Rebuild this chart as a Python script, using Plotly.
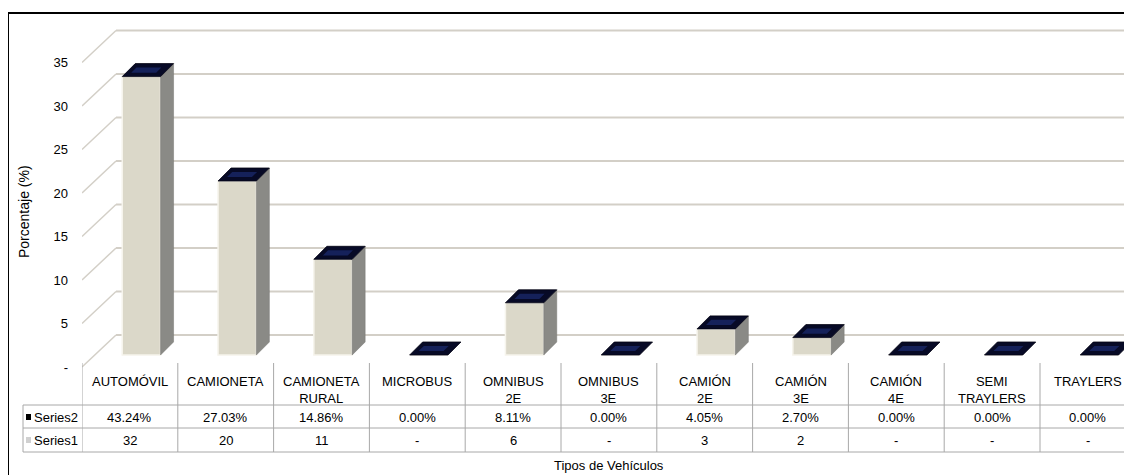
import plotly.graph_objects as go

# ---------------- data ----------------
categories = ["AUTOMÓVIL", "CAMIONETA", "CAMIONETA<br>RURAL", "MICROBUS", "OMNIBUS<br>2E",
              "OMNIBUS<br>3E", "CAMIÓN<br>2E", "CAMIÓN<br>3E", "CAMIÓN<br>4E",
              "SEMI<br>TRAYLERS", "TRAYLERS"]
series1 = [32, 20, 11, 0, 6, 0, 3, 2, 0, 0, 0]            # vehicle counts (bars)
series2 = [43.24, 27.03, 14.86, 0.00, 8.11, 0.00, 4.05, 2.70, 0.00, 0.00, 0.00]  # percentages
y_ticks = [0, 5, 10, 15, 20, 25, 30, 35]
y_ticktext = ["-", "5", "10", "15", "20", "25", "30", "35"]

# ---------------- layout constants (pixels of the 1132x475 view) ----------------
VW, VH = 1132, 475
PAGE_OFF = 8                     # default page body margin
W, H = VW - PAGE_OFF, VH - PAGE_OFF
X0_PX = 82          # left edge of first table column
COL_PX = 95.8       # column width
ZERO_PX = 355       # pixel row of value 0 on bar front faces
UNIT_PX = 8.7       # pixels per value unit
FONT = "Liberation Sans, Arial, sans-serif"

def xpx(dpx):  # pixel distance -> category units
    return dpx / COL_PX

def ypx(dpx):  # pixel distance -> value units
    return dpx / UNIT_PX

def py(p):     # view pixel row -> paper y
    return 1 - (p - PAGE_OFF) / H

def pxp(p):    # view pixel column -> paper x
    return (p - PAGE_OFF) / W

xr = [-0.5, -0.5 + xpx(VW - X0_PX)]
yr = [-ypx(VH - ZERO_PX), ypx(ZERO_PX - PAGE_OFF)]

idx = list(range(len(categories)))
BAR_W = 0.4
BAR_OFF = -0.08
DX, DY = xpx(13), ypx(13)

fig = go.Figure()

# front faces
fig.add_trace(go.Bar(x=idx, y=series1, width=BAR_W, offset=BAR_OFF,
                     marker=dict(color="#dbd8c9", line=dict(color="#f6f4ec", width=1.5)),
                     hoverinfo="skip", showlegend=False))

# side faces
sx, sy = [], []
for i, v in zip(idx, series1):
    if v <= 0:
        continue
    r = i + BAR_OFF + BAR_W
    sx += [r, r, r + DX, r + DX, r, None]
    sy += [0, v, v + DY, DY, 0, None]
fig.add_trace(go.Scatter(x=sx, y=sy, mode="lines", fill="toself", fillcolor="#8a8a86",
                         line=dict(color="#767672", width=0.5), hoverinfo="skip", showlegend=False))

# top faces (Series2 caps)
tx, ty, ix, iy = [], [], [], []
for i, v in zip(idx, series1):
    l = i + BAR_OFF
    r = l + BAR_W
    tx += [l, r, r + DX, l + DX, l, None]
    ty += [v, v, v + DY, v + DY, v, None]
    il, ir = l + 0.25 * DX + 0.06, r + 0.25 * DX - 0.08
    iv0, iv1 = v + 0.3 * DY, v + 0.7 * DY
    ix += [il, ir, ir + 0.4 * DX, il + 0.4 * DX, il, None]
    iy += [iv0, iv0, iv1, iv1, iv0, None]
fig.add_trace(go.Scatter(x=tx, y=ty, mode="lines", fill="toself", fillcolor="#070a26",
                         line=dict(color="#020312", width=0.8), hoverinfo="skip", showlegend=False))
fig.add_trace(go.Scatter(x=ix, y=iy, mode="lines", fill="toself", fillcolor="#15215a",
                         line=dict(width=0), hoverinfo="skip", showlegend=False))

shapes = []
# gridlines (wall + floor), drawn below the bars
FRONT_DY = -ypx(12)
BACK_DY = ypx(20)
x_back = -0.5 + xpx(34)
for t in y_ticks:
    shapes.append(dict(type="line", xref="x", yref="y", x0=-0.5, y0=t + FRONT_DY,
                       x1=x_back, y1=t + BACK_DY, line=dict(color="#d3cfc7", width=1.5), layer="below"))
    shapes.append(dict(type="line", xref="x", yref="y", x0=x_back, y0=t + BACK_DY,
                       x1=xr[1], y1=t + BACK_DY, line=dict(color="#d3cfc7", width=2), layer="below"))

# data table lines
TBL_TOP, ROW1, ROW2, ROW3 = 363, 405, 428, 452
LEG_L = 23
grey = "#a8a8a8"
for k in range(len(categories) + 1):
    shapes.append(dict(type="line", xref="x", yref="paper", x0=k - 0.5, x1=k - 0.5,
                       y0=py(TBL_TOP), y1=py(ROW3), line=dict(color=grey, width=1)))
shapes.append(dict(type="line", xref="paper", yref="paper", x0=pxp(LEG_L), x1=pxp(LEG_L),
                   y0=py(ROW1), y1=py(ROW3), line=dict(color=grey, width=1)))
for r in (ROW1, ROW2, ROW3):
    shapes.append(dict(type="line", xref="paper", yref="paper", x0=pxp(LEG_L), x1=1.01,
                       y0=py(r), y1=py(r), line=dict(color=grey, width=1)))
# legend keys
shapes.append(dict(type="rect", xref="paper", yref="paper", x0=pxp(26), x1=pxp(31),
                   y0=py(420), y1=py(414), fillcolor="#000000", line=dict(width=0)))
shapes.append(dict(type="rect", xref="paper", yref="paper", x0=pxp(26), x1=pxp(31),
                   y0=py(443), y1=py(437), fillcolor="#d0d0d0", line=dict(width=0)))
# outer border
shapes.append(dict(type="rect", xref="paper", yref="paper", x0=pxp(8), x1=1.02,
                   y0=-0.05, y1=py(13), line=dict(color="#000000", width=2), fillcolor="rgba(0,0,0,0)"))

annotations = []
tf = dict(family=FONT, size=13, color="#000000")
for i, c in enumerate(categories):
    annotations.append(dict(x=i, y=py(372), xref="x", yref="paper", text=c, showarrow=False,
                            yanchor="top", xanchor="center", font=tf, align="center"))
    annotations.append(dict(x=i, y=py(417), xref="x", yref="paper", text=f"{series2[i]:.2f}%",
                            showarrow=False, yanchor="middle", xanchor="center", font=tf))
    annotations.append(dict(x=i, y=py(440), xref="x", yref="paper",
                            text=str(series1[i]) if series1[i] else "-",
                            showarrow=False, yanchor="middle", xanchor="center", font=tf))
annotations.append(dict(x=pxp(32), y=py(417), xref="paper", yref="paper", text="Series2",
                        showarrow=False, xanchor="left", yanchor="middle", font=tf))
annotations.append(dict(x=pxp(32), y=py(440), xref="paper", yref="paper", text="Series1",
                        showarrow=False, xanchor="left", yanchor="middle", font=tf))
annotations.append(dict(x=pxp(609), y=py(465), xref="paper", yref="paper",
                        text="Tipos de Vehículos", showarrow=False, xanchor="center",
                        yanchor="middle", font=tf))
annotations.append(dict(x=pxp(24), y=py(212), xref="paper", yref="paper", text="Porcentaje (%)",
                        showarrow=False, textangle=-90, xanchor="center", yanchor="middle",
                        font=dict(family=FONT, size=14, color="#000000")))

fig.update_layout(
    width=W, height=H, margin=dict(l=0, r=0, t=0, b=0),
    paper_bgcolor="#ffffff", plot_bgcolor="rgba(0,0,0,0)",
    showlegend=False, barmode="overlay",
    shapes=shapes, annotations=annotations,
    xaxis=dict(domain=[pxp(X0_PX), 1], range=xr, showgrid=False, zeroline=False,
               showticklabels=False, showline=False, fixedrange=True),
    yaxis=dict(domain=[0, 1], range=yr, showgrid=False, zeroline=False,
               showticklabels=False, showline=False, fixedrange=True),
    yaxis2=dict(overlaying="y", anchor="free", position=pxp(68), side="left",
                range=[yr[0] + ypx(12), yr[1] + ypx(12)], tickvals=y_ticks, ticktext=y_ticktext,
                showgrid=False, zeroline=False, showline=False, ticks="",
                tickfont=dict(family=FONT, size=13, color="#000000")),
)
# invisible trace to activate yaxis2
fig.add_trace(go.Scatter(x=[None], y=[None], yaxis="y2", showlegend=False, hoverinfo="skip"))

fig.write_html("out.html")
